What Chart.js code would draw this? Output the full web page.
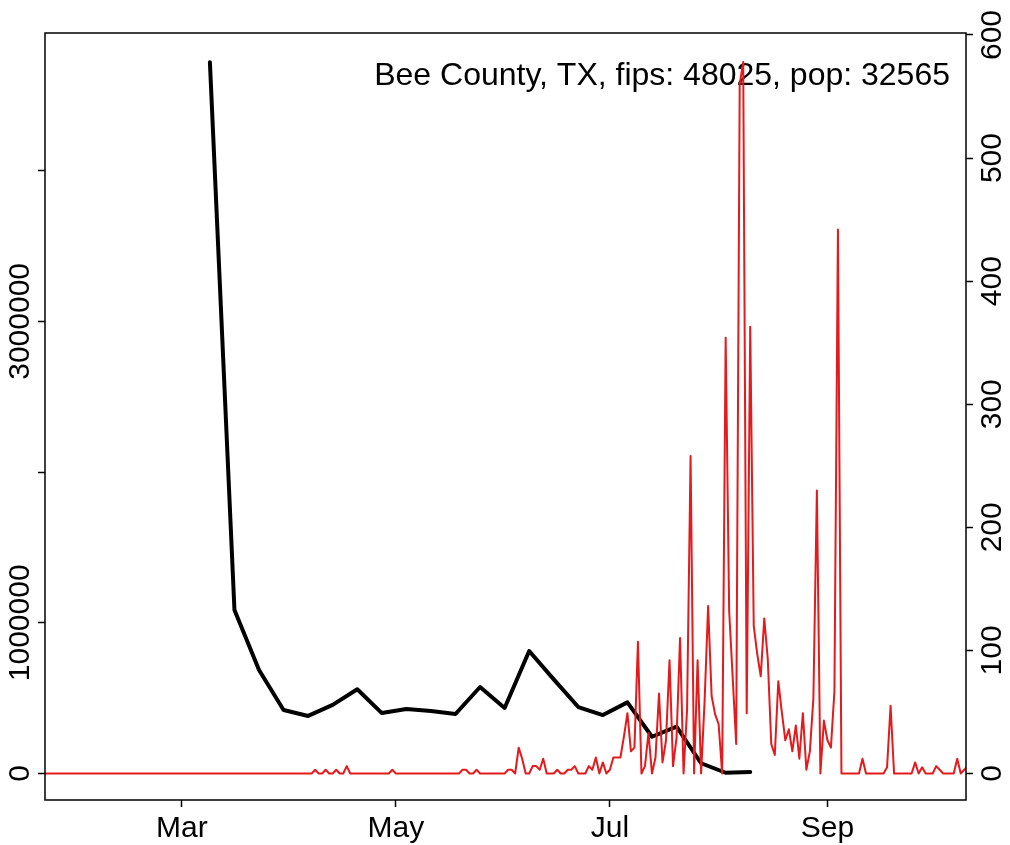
<!DOCTYPE html>
<html><head><meta charset="utf-8">
<script src="https://cdn.jsdelivr.net/npm/chart.js@4.4.1/dist/chart.umd.min.js"></script>
<style>html,body{margin:0;padding:0;background:#fff;overflow:hidden}#wrap{width:1010px;height:845px}</style>
</head><body><div id="wrap"><canvas id="c" width="1010" height="845"></canvas></div>
<script>
// ---- data (x values are day-of-year 2020, Jan 1 = 0) ----
const titleText = 'Bee County, TX, fips: 48025, pop: 32565';
const monthTickDays = [60, 121, 182, 244];
const monthTickLabels = ['Mar', 'May', 'Jul', 'Sep'];
const leftTickValues = [0, 1000000, 2000000, 3000000, 4000000];
const leftTickLabels = ['0', '1000000', '', '3000000', ''];
const rightTickValues = [0, 100, 200, 300, 400, 500, 600];
const rightTickLabels = ['0', '100', '200', '300', '400', '500', '600'];

const weeklyDays = [68, 75, 82, 89, 96, 103, 110, 117, 124, 131, 138, 145, 152, 159, 166, 173, 180, 187, 194, 201, 208, 215, 222];
const weeklyValues = [4720000, 1085000, 687000, 421000, 382000, 455000, 559000, 401000, 428000, 415000, 395000, 574000, 435000, 813000, 625000, 441000, 388000, 472000, 244000, 311000, 68000, 5000, 10000];

const dailyStartDay = 21;
const dailyValues = [
  0,0,0,0,0,0,0,0,0,0,        // 21-30
  0,0,0,0,0,0,0,0,0,0,        // 31-40
  0,0,0,0,0,0,0,0,0,0,        // 41-50
  0,0,0,0,0,0,0,0,0,0,        // 51-60
  0,0,0,0,0,0,0,0,0,0,        // 61-70
  0,0,0,0,0,0,0,0,0,0,        // 71-80
  0,0,0,0,0,0,0,0,0,0,        // 81-90
  0,0,0,0,0,0,0,3,0,0,        // 91-100
  3,0,0,3,0,0,6,0,0,0,        // 101-110
  0,0,0,0,0,0,0,0,0,3,        // 111-120
  0,0,0,0,0,0,0,0,0,0,        // 121-130
  0,0,0,0,0,0,0,0,0,3,        // 131-140
  3,0,0,3,0,0,0,0,0,0,        // 141-150
  0,0,3,3,0,21,12,0,0,6,      // 151-160
  6,3,12,0,0,0,3,0,0,3,       // 161-170
  3,6,0,0,0,6,3,13,0,9,       // 171-180
  0,3,13,13,13,30,49,18,21,107, // 181-190
  0,6,33,0,13,65,9,27,92,6,   // 191-200
  29,110,0,52,258,0,92,0,59,136, // 201-210
  63,48,40,0,354,132,78,24,560,578, // 211-220
  49,363,120,97,79,126,93,24,15,75, // 221-230
  50,27,36,18,39,12,49,3,18,61, // 231-240
  230,0,43,27,21,67,442,0,0,0, // 241-250
  0,0,0,12,0,0,0,0,0,0,       // 251-260
  5,55,0,0,0,0,0,0,9,0,       // 261-270
  5,0,0,0,6,3,0,0,0,0,        // 271-280
  12,0,3,6                    // 281-284
];

// ---- build ----
const FONT = '"Liberation Sans", Arial, Helvetica, sans-serif';
const AXFONT = 30;
const TITLEFONT = 32;
function textW(t, size) {
  const c = document.createElement('canvas').getContext('2d');
  c.font = size + 'px ' + FONT;
  return c.measureText(t).width;
}
const wLeft = Math.max(...leftTickLabels.map(t => textW(t, AXFONT)));
const wRight = Math.max(...rightTickLabels.map(t => textW(t, AXFONT)));
const TL = 7;

const redPts = dailyValues.map((v, i) => ({x: dailyStartDay + i, y: v}));
const blackPts = weeklyDays.map((d, i) => ({x: d, y: weeklyValues[i]}));

const framePlugin = {
  id: 'frame',
  beforeDatasetsDraw(chart) {
    const c = chart.ctx, a = chart.chartArea;
    c.save();
    c.font = TITLEFONT + 'px ' + FONT;
    c.fillStyle = '#000';
    c.textAlign = 'right';
    c.textBaseline = 'alphabetic';
    c.fillText(titleText, a.right - 16, a.top + 52);
    c.restore();
  },
  afterDraw(chart) {
    const c = chart.ctx, a = chart.chartArea;
    c.save();
    c.strokeStyle = '#000';
    c.lineWidth = 1.5;
    c.strokeRect(a.left, a.top, a.right - a.left, a.bottom - a.top);
    c.restore();
  }
};

const tickGrid = {drawOnChartArea: false, drawTicks: true, tickLength: TL, tickColor: '#000', tickWidth: 1.5, color: '#000'};

new Chart(document.getElementById('c'), {
  type: 'line',
  data: {
    datasets: [
      {data: redPts, yAxisID: 'yR', borderColor: '#E41A1C', borderWidth: 2, pointRadius: 0, tension: 0, fill: false, order: 0, borderJoinStyle: 'round'},
      {data: blackPts, yAxisID: 'yL', borderColor: '#000000', borderWidth: 4, pointRadius: 0, tension: 0, fill: false, order: 1, borderJoinStyle: 'round', borderCapStyle: 'round'}
    ]
  },
  options: {
    responsive: false,
    animation: false,
    devicePixelRatio: 1,
    parsing: true,
    layout: {padding: {top: 33, left: 0, right: 0, bottom: 0}},
    plugins: {legend: {display: false}, tooltip: {enabled: false}, title: {display: false}},
    scales: {
      x: {
        type: 'linear', position: 'bottom', min: 21, max: 283.5, bounds: 'data',
        afterBuildTicks: s => { s.ticks = monthTickDays.map(v => ({value: v})); },
        ticks: {autoSkip: false, maxRotation: 0, minRotation: 0, padding: 4, color: '#000',
          font: {family: FONT, size: AXFONT},
          callback: v => monthTickLabels[monthTickDays.indexOf(v)] },
        grid: tickGrid,
        border: {display: false},
        afterFit: s => { s.height = 45; }
      },
      yL: {
        type: 'linear', position: 'left', min: -175800, max: 4913700, bounds: 'data',
        afterBuildTicks: s => { s.ticks = leftTickValues.map(v => ({value: v})); },
        ticks: {autoSkip: false, minRotation: 90, maxRotation: 90, crossAlign: 'center',
          padding: (45 - TL - 21) - wLeft / 2, color: '#000',
          font: {family: FONT, size: AXFONT},
          callback: v => leftTickLabels[leftTickValues.indexOf(v)] },
        grid: tickGrid,
        border: {display: false},
        afterFit: s => { s.width = 45; }
      },
      yR: {
        type: 'linear', position: 'right', min: -21.53, max: 601.6, bounds: 'data',
        afterBuildTicks: s => { s.ticks = rightTickValues.map(v => ({value: v})); },
        ticks: {autoSkip: false, minRotation: 90, maxRotation: 90, crossAlign: 'center',
          padding: (993 - 966 - TL) - wRight / 2, color: '#000',
          font: {family: FONT, size: AXFONT},
          callback: v => rightTickLabels[rightTickValues.indexOf(v)] },
        grid: tickGrid,
        border: {display: false},
        afterFit: s => { s.width = 44; }
      }
    }
  },
  plugins: [framePlugin]
});
</script>
</body></html>
